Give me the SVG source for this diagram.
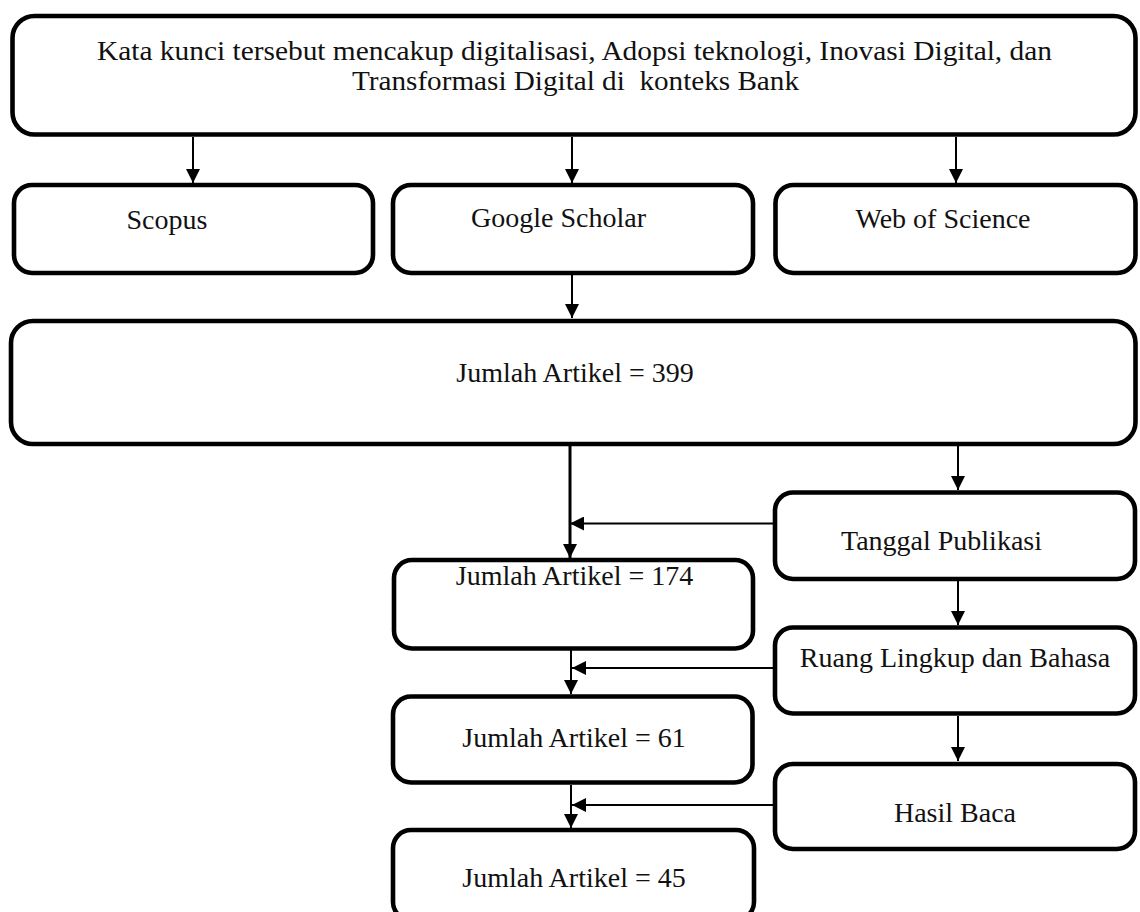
<svg xmlns="http://www.w3.org/2000/svg" width="1140" height="912" viewBox="0 0 1140 912">
<style>
.box{fill:#fff;stroke:#000;stroke-width:4.6}
.t{font-family:"Liberation Serif","Times New Roman",serif;font-size:28px;fill:#111;text-anchor:middle}
.c{stroke:#000;stroke-width:2;fill:none}
.ct{stroke:#000;stroke-width:3;fill:none}
</style>
<defs>
<marker id="ah" viewBox="0 0 14 14" refX="14" refY="7" markerWidth="14" markerHeight="14" markerUnits="userSpaceOnUse" orient="auto">
<path d="M0,0 L14,7 L0,14 z" fill="#000"/>
</marker>
</defs>
<rect width="1140" height="912" fill="#fff"/>
<g id="connectors">
<line class="c" x1="193" y1="137" x2="193" y2="183" marker-end="url(#ah)"/>
<line class="c" x1="572" y1="137" x2="572" y2="183" marker-end="url(#ah)"/>
<line class="c" x1="956" y1="137" x2="956" y2="183" marker-end="url(#ah)"/>
<line class="c" x1="572" y1="275" x2="572" y2="318" marker-end="url(#ah)"/>
<line class="c" x1="958" y1="446" x2="958" y2="490" marker-end="url(#ah)"/>
<line class="c" x1="958" y1="581" x2="958" y2="625" marker-end="url(#ah)"/>
<line class="c" x1="958" y1="716" x2="958" y2="761" marker-end="url(#ah)"/>
<line class="ct" x1="570" y1="446" x2="570" y2="558" marker-end="url(#ah)"/>
<line class="c" x1="773" y1="523.5" x2="570" y2="523.5" marker-end="url(#ah)"/>
<line class="c" x1="571" y1="650" x2="571" y2="694" marker-end="url(#ah)"/>
<line class="c" x1="773" y1="668" x2="572" y2="668" marker-end="url(#ah)"/>
<line class="c" x1="571" y1="785" x2="571" y2="828" marker-end="url(#ah)"/>
<line class="c" x1="773" y1="805" x2="572" y2="805" marker-end="url(#ah)"/>
</g>
<g id="keywords">
<rect class="box" x="12.5" y="16" width="1123" height="118.5" rx="22"/>
<text class="t" x="574.5" y="60" textLength="955" lengthAdjust="spacingAndGlyphs">Kata kunci tersebut mencakup digitalisasi, Adopsi teknologi, Inovasi Digital, dan</text>
<text class="t" x="575.5" y="90" textLength="447" lengthAdjust="spacingAndGlyphs" xml:space="preserve">Transformasi Digital di  konteks Bank</text>
</g>
<g id="scopus">
<rect class="box" x="14" y="185" width="359" height="88" rx="18"/>
<text class="t" x="167" y="229">Scopus</text>
</g>
<g id="google-scholar">
<rect class="box" x="393" y="185" width="360" height="88" rx="18"/>
<text class="t" x="558.5" y="227">Google Scholar</text>
</g>
<g id="web-of-science">
<rect class="box" x="775.5" y="185" width="360" height="88" rx="18"/>
<text class="t" x="943" y="228">Web of Science</text>
</g>
<g id="jumlah-399">
<rect class="box" x="11" y="321" width="1124.5" height="123" rx="22"/>
<text class="t" x="575" y="382">Jumlah Artikel = 399</text>
</g>
<g id="tanggal-publikasi">
<rect class="box" x="775" y="492.5" width="360" height="86.5" rx="18"/>
<text class="t" x="941.5" y="550">Tanggal Publikasi</text>
</g>
<g id="jumlah-174">
<rect class="box" x="394" y="560" width="359" height="88.5" rx="18"/>
<text class="t" x="574.5" y="585">Jumlah Artikel = 174</text>
</g>
<g id="ruang-lingkup">
<rect class="box" x="775" y="627.5" width="360" height="86" rx="18"/>
<text class="t" x="955" y="667">Ruang Lingkup dan Bahasa</text>
</g>
<g id="jumlah-61">
<rect class="box" x="393" y="696.5" width="359.5" height="86" rx="18"/>
<text class="t" x="574" y="747">Jumlah Artikel = 61</text>
</g>
<g id="hasil-baca">
<rect class="box" x="775" y="764" width="360" height="85" rx="18"/>
<text class="t" x="955" y="822">Hasil Baca</text>
</g>
<g id="jumlah-45">
<rect class="box" x="393" y="830" width="361" height="90" rx="18"/>
<text class="t" x="574" y="887">Jumlah Artikel = 45</text>
</g>
</svg>
